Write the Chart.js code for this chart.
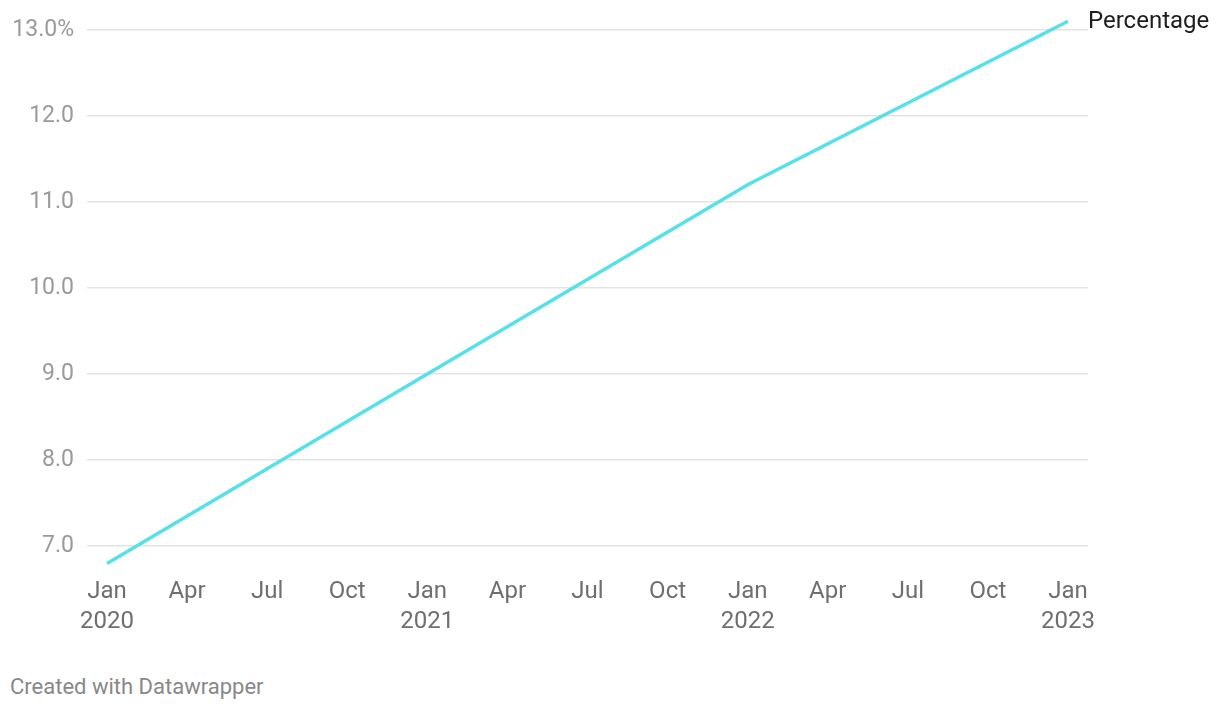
<!DOCTYPE html>
<html lang="en">
<head>
    <meta charset="UTF-8">
    <title>Percentage</title>
    <script src="https://cdn.jsdelivr.net/npm/chart.js"></script>
    <style>
        body { margin: 0; background: #fff; font-family: Roboto, sans-serif; }
        .wrap { position: relative; width: 1220px; height: 660px; }
        .footer { position: absolute; left: 10px; top: 674px; font-size: 22px; color: #888; }
    </style>
</head>
<body>

<div class="wrap">
    <canvas id="lineChart"></canvas>
</div>
<div class="footer">Created with Datawrapper</div>

<script>
// months since Jan 2020
const months = [0, 12, 24, 36];
const percentage = [6.8, 9.0, 11.2, 13.1];
const monthTicks = [0, 3, 6, 9, 12, 15, 18, 21, 24, 27, 30, 33, 36];
const monthNames = ['Jan', 'Apr', 'Jul', 'Oct'];
const yTicks = [7, 8, 9, 10, 11, 12, 13];
const seriesName = 'Percentage';

const lineColor = '#56e1ea';

// label at the end of the line
const endLabel = {
    id: 'endLabel',
    afterDatasetsDraw(chart) {
        const meta = chart.getDatasetMeta(0);
        const last = meta.data[meta.data.length - 1];
        const c = chart.ctx;
        c.save();
        c.font = '24px Roboto';
        c.fillStyle = '#1d1d1d';
        c.textAlign = 'left';
        c.textBaseline = 'middle';
        c.fillText(seriesName, last.x + 20, last.y + 1);
        c.restore();
    }
};

new Chart(document.getElementById('lineChart'), {
    type: 'line',
    data: {
        datasets: [{
            label: seriesName,
            data: months.map((m, i) => ({ x: m, y: percentage[i] })),
            borderColor: lineColor,
            borderWidth: 3.5,
            pointRadius: 0,
            tension: 0,
            fill: false
        }]
    },
    options: {
        responsive: true,
        maintainAspectRatio: false,
        animation: false,
        layout: { padding: { top: 17, right: 132, left: 0, bottom: 0 } },
        plugins: {
            legend: { display: false },
            tooltip: { enabled: false }
        },
        scales: {
            x: {
                type: 'linear',
                min: -0.75,
                max: 36.75,
                afterBuildTicks: s => { s.ticks = monthTicks.map(v => ({ value: v })); },
                afterFit: s => { s.height = 88; },
                grid: { display: false },
                border: { display: false },
                ticks: {
                    autoSkip: false,
                    maxRotation: 0,
                    padding: -3,
                    color: '#6f6f6f',
                    font: { family: 'Roboto', size: 24, lineHeight: 1.25 },
                    callback: v => {
                        const name = monthNames[(v / 3) % 4];
                        return v % 12 === 0 ? [name, String(2020 + v / 12)] : name;
                    }
                }
            },
            y: {
                min: 6.7,
                max: 13.15,
                afterBuildTicks: s => { s.ticks = yTicks.map(v => ({ value: v })); },
                afterFit: s => { s.width = 87; s.paddingTop = 0; s.paddingBottom = 0; },
                border: { display: false },
                grid: { color: '#e3e3e3', lineWidth: 1.5, drawTicks: false },
                ticks: {
                    padding: 13,
                    color: '#9a9a9a',
                    font: { family: 'Roboto', size: 23 },
                    callback: v => v === 13 ? '13.0%' : v.toFixed(1)
                }
            }
        }
    },
    plugins: [endLabel]
});
</script>

</body>
</html>
